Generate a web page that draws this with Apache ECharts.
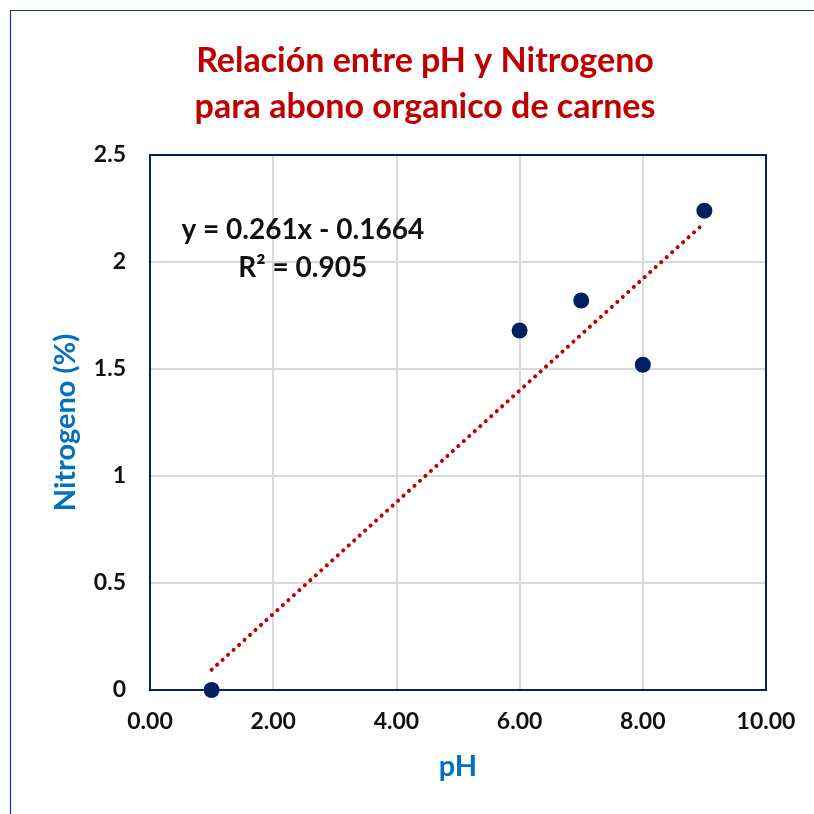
<!DOCTYPE html>
<html>
<head>
<meta charset="utf-8">
<script src="https://cdn.jsdelivr.net/npm/echarts@6/dist/echarts.min.js"></script>
<style>
  html, body { margin: 0; padding: 0; background: #ffffff; }
  #chart { width: 814px; height: 814px; }
</style>
</head>
<body>
<div id="chart"></div>
<script>
// pH vs Nitrogen (%) measurements
const phValues = [1, 6, 7, 8, 9];
const nitrogenValues = [0, 1.68, 1.82, 1.52, 2.24];

// Linear trend line parameters
const slope = 0.261;
const intercept = -0.1664;
const rSquared = 0.905;
const trendX = [1, 9];

const titleLines = ['Relación entre pH y Nitrogeno', 'para abono organico de carnes'];
const xAxisName = 'pH';
const yAxisName = 'Nitrogeno (%)';

const FONT = 'Lato, "Open Sans", sans-serif';
const chart = echarts.init(document.getElementById('chart'));

const points = phValues.map((x, i) => [x, nitrogenValues[i]]);
const trend = trendX.map(x => [x, slope * x + intercept]);

const frame = {
  type: 'rect',
  shape: { x: 10.5, y: 10.5, width: 900, height: 900 },
  style: { fill: 'none', stroke: '#1f3a7a', lineWidth: 1.2 },
  z: 0
};

chart.setOption({
  backgroundColor: '#ffffff',
  animation: false,
  graphic: [frame],
  title: {
    text: titleLines.join('\n'),
    left: 420,
    textAlign: 'center',
    top: 33,
    textStyle: {
      fontFamily: FONT,
      fontWeight: 'bold',
      fontSize: 34,
      color: '#c00000',
      lineHeight: 46
    }
  },
  grid: { left: 150, top: 155, right: 48, bottom: 124 },
  xAxis: {
    type: 'value',
    min: 0, max: 10, interval: 2,
    name: xAxisName,
    nameLocation: 'middle',
    nameGap: 62,
    nameTextStyle: { fontFamily: FONT, fontWeight: 'bold', fontSize: 29, color: '#0070c0' },
    axisLine: { show: true, onZero: false, lineStyle: { color: '#002060', width: 2 } },
    axisTick: { show: false },
    axisLabel: {
      fontFamily: FONT, fontWeight: 'bold', fontSize: 23, color: '#111111', margin: 20,
      formatter: v => v.toFixed(2)
    },
    splitLine: { show: true, lineStyle: { color: '#d9d9d9', width: 2 } }
  },
  yAxis: {
    type: 'value',
    min: 0, max: 2.5, interval: 0.5,
    name: yAxisName,
    nameLocation: 'middle',
    nameGap: 70,
    nameTextStyle: { fontFamily: FONT, fontWeight: 'bold', fontSize: 29, color: '#0070c0' },
    axisLine: { show: true, onZero: false, lineStyle: { color: '#002060', width: 2 } },
    axisTick: { show: false },
    axisLabel: { fontFamily: FONT, fontWeight: 'bold', fontSize: 23, color: '#111111', margin: 24 },
    splitLine: { show: true, lineStyle: { color: '#d9d9d9', width: 2 } }
  },
  series: [
    {
      type: 'line',
      data: trend,
      symbol: 'none',
      silent: true,
      z: 2,
      lineStyle: { color: '#c00000', width: 4, type: [0.1, 7.3], cap: 'round' }
    },
    {
      type: 'scatter',
      data: points,
      symbol: 'circle',
      symbolSize: 16,
      z: 3,
      itemStyle: { color: '#002060', opacity: 1 }
    }
  ]
});

// Plot-area box and trend equation label, positioned from the axis scales
const topLeft = chart.convertToPixel({ gridIndex: 0 }, [0, 2.5]);
const bottomRight = chart.convertToPixel({ gridIndex: 0 }, [10, 0]);
const eqPos = chart.convertToPixel({ gridIndex: 0 }, [2.48, 2.06]);
chart.setOption({
  graphic: [
    frame,
    {
      type: 'rect',
      z: 5,
      silent: true,
      shape: {
        x: topLeft[0],
        y: topLeft[1],
        width: bottomRight[0] - topLeft[0],
        height: bottomRight[1] - topLeft[1]
      },
      style: { fill: 'none', stroke: '#002060', lineWidth: 2 }
    },
    {
      type: 'text',
      x: eqPos[0],
      y: eqPos[1],
      z: 10,
      style: {
        text: 'y = ' + slope + 'x - ' + Math.abs(intercept) + '\nR² = ' + rSquared,
        fontFamily: FONT,
        fontWeight: 'bold',
        fontSize: 28,
        lineHeight: 38,
        fill: '#111111',
        align: 'center',
        verticalAlign: 'middle'
      }
    }
  ]
});
</script>
</body>
</html>
